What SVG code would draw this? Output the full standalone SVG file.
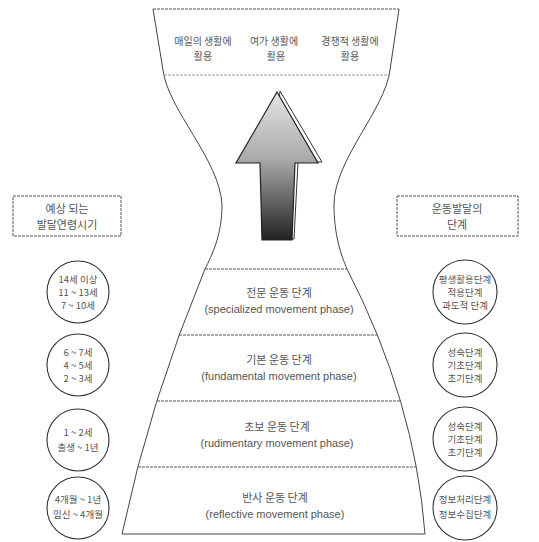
<svg xmlns="http://www.w3.org/2000/svg" width="539" height="542" viewBox="0 0 539 542">
<style>
  .ln{fill:none;stroke:#444;stroke-width:1}
  .hz{fill:none;stroke:#555;stroke-width:1;stroke-dasharray:3 1}
  .bx{fill:#fff;stroke:#555;stroke-width:1;stroke-dasharray:3 1}
  .cr{fill:#fff;stroke:#333;stroke-width:1.1}
  .kr{font-family:"Noto Sans CJK KR","Noto Sans",sans-serif;fill:#555;text-anchor:middle}
  .en{font-family:"Liberation Sans",Arial,sans-serif;fill:#555;text-anchor:middle}
  .t11{font-size:11px}
  .t10{font-size:9.5px}
  .tt{font-size:10px}
</style>
<defs>
  <linearGradient id="ag" x1="0" y1="0" x2="0" y2="1">
    <stop offset="0" stop-color="#e4e4e4"/>
    <stop offset="0.45" stop-color="#aaa"/>
    <stop offset="1" stop-color="#222"/>
  </linearGradient>
</defs>
<rect width="539" height="542" fill="#fff"/>

<g id="hourglass">
  <path class="ln" d="M153,9 L163,70 C168,110 220,160 222,205 C222,235 212,255 205,269 Q150,401 122,534 L425,534 Q415,401 347,269 C341,255 334,235 334,205 C334,160 385,110 390,70 L399,9"/>
  <line class="hz" x1="153" y1="9" x2="399" y2="9"/>
  <line x1="164" y1="75" x2="389" y2="75" stroke="#888" stroke-width="0.8" stroke-dasharray="3 1"/>
</g>

<g id="top-uses">
  <text class="kr tt" x="203" y="45">매일의 생활에</text>
  <text class="kr tt" x="203" y="60">활용</text>
  <text class="kr tt" x="274" y="45">여가 생활에</text>
  <text class="kr tt" x="276" y="60">활용</text>
  <text class="kr tt" x="350" y="45">경쟁적 생활에</text>
  <text class="kr tt" x="350" y="60">활용</text>
</g>

<g id="stage-specialized">
  <line class="hz" x1="205" y1="269" x2="347" y2="269"/>
  <text class="kr t11" x="279" y="297">전문 운동 단계</text>
  <text class="en t11" x="279" y="313">(specialized movement phase)</text>
</g>
<g id="stage-fundamental">
  <line class="hz" x1="179" y1="335" x2="377" y2="335"/>
  <text class="kr t11" x="279" y="364">기본 운동 단계</text>
  <text class="en t11" x="279" y="380">(fundamental movement phase)</text>
</g>
<g id="stage-rudimentary">
  <line class="hz" x1="157" y1="401" x2="400" y2="401"/>
  <text class="kr t11" x="277" y="431">초보 운동 단계</text>
  <text class="en t11" x="277" y="447">(rudimentary movement phase)</text>
</g>
<g id="stage-reflective">
  <line class="hz" x1="138" y1="467" x2="416" y2="467"/>
  <text class="kr t11" x="275" y="502">반사 운동 단계</text>
  <text class="en t11" x="275" y="518">(reflective movement phase)</text>
</g>

<g id="box-age">
  <rect class="bx" x="13" y="196" width="108" height="40"/>
  <text class="kr t11" x="67" y="213">예상 되는</text>
  <text class="kr t11" x="67" y="229">발달연령시기</text>
</g>
<g id="box-stage">
  <rect class="bx" x="397" y="196" width="121" height="40"/>
  <text class="kr t11" x="457" y="213">운동발달의</text>
  <text class="kr t11" x="457" y="229">단계</text>
</g>

<g id="age-1">
  <circle class="cr" cx="78" cy="292" r="31"/>
  <text class="kr t10" x="78" y="283">14세 이상</text>
  <text class="kr t10" x="78" y="296">11 ~ 13세</text>
  <text class="kr t10" x="78" y="309">7 ~ 10세</text>
</g>
<g id="age-2">
  <circle class="cr" cx="78" cy="365" r="31"/>
  <text class="kr t10" x="78" y="356">6 ~ 7세</text>
  <text class="kr t10" x="78" y="369">4 ~ 5세</text>
  <text class="kr t10" x="78" y="382">2 ~ 3세</text>
</g>
<g id="age-3">
  <circle class="cr" cx="78" cy="440" r="31"/>
  <text class="kr t10" x="78" y="436">1 ~ 2세</text>
  <text class="kr t10" x="78" y="451">출생 ~ 1년</text>
</g>
<g id="age-4">
  <circle class="cr" cx="78" cy="508" r="31"/>
  <text class="kr t10" x="78" y="503">4개월 ~ 1년</text>
  <text class="kr t10" x="78" y="518">임신 ~ 4개월</text>
</g>

<g id="sub-1">
  <circle class="cr" cx="465" cy="292" r="32"/>
  <text class="kr t10" x="465" y="283">평생활용단계</text>
  <text class="kr t10" x="465" y="296">적용단계</text>
  <text class="kr t10" x="465" y="309">과도적 단계</text>
</g>
<g id="sub-2">
  <circle class="cr" cx="465" cy="365" r="32"/>
  <text class="kr t10" x="465" y="356">성숙단계</text>
  <text class="kr t10" x="465" y="369">기초단계</text>
  <text class="kr t10" x="465" y="382">초기단계</text>
</g>
<g id="sub-3">
  <circle class="cr" cx="465" cy="439" r="32"/>
  <text class="kr t10" x="465" y="430">성숙단계</text>
  <text class="kr t10" x="465" y="443">기초단계</text>
  <text class="kr t10" x="465" y="456">초기단계</text>
</g>
<g id="sub-4">
  <circle class="cr" cx="465" cy="508" r="32"/>
  <text class="kr t10" x="465" y="503">정보처리단계</text>
  <text class="kr t10" x="465" y="518">정보수집단계</text>
</g>

<g id="connectors">
  <polygon points="280,91 322,162 298,162 294,239 266,239" fill="#fff" stroke="#333" stroke-width="1"/>
  <polygon points="277,92 318,163 295,163 292,240 262,240 260,163 236,163" fill="url(#ag)" stroke="#222" stroke-width="1.2" stroke-linejoin="miter"/>
</g>
</svg>
